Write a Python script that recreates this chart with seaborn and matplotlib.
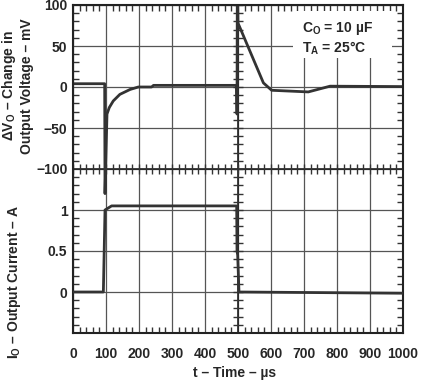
import numpy as np
import matplotlib
matplotlib.use("Agg")
import matplotlib.pyplot as plt
from matplotlib.patches import Rectangle
import seaborn as sns
import pandas as pd

# output voltage change (mV) vs time (us)
t_vout = [0, 96, 97, 103, 110, 122, 142, 173, 198, 238, 244, 496, 497, 498, 500, 577, 602, 713, 779, 1000]
dv_out = [4, 4, -130, -33, -25, -17, -9, -3, 0, 0, 2, 2, -33, 140, 78, 5, -4, -6, 1, 0.5]

# output current (A) vs time (us)
t_iout = [0, 92, 97, 117, 496, 497, 499, 503, 1000]
i_out = [0, 0, 1.0, 1.05, 1.05, 0.5, 0.45, 0, -0.015]

v_ticks = [100, 50, 0, -50, -100]
i_ticks = [1, 0.5, 0]
x_ticks = list(range(0, 1001, 100))

sns.set_style("white")
plt.rcParams["font.family"] = ["Liberation Sans", "DejaVu Sans"]
plt.rcParams["font.weight"] = "bold"
plt.rcParams["mathtext.fontset"] = "custom"
plt.rcParams["mathtext.rm"] = "Liberation Sans:bold"
plt.rcParams["mathtext.it"] = "Liberation Sans:bold"
plt.rcParams["mathtext.default"] = "rm"

fig = plt.figure(figsize=(4.22, 3.8), dpi=100)
ax = fig.add_axes([73 / 422, 47 / 380, 330 / 422, 328 / 380])
ax2 = ax.twinx()

line_col = "#333333"
grid_col = "#555555"
fs = 10

df_v = pd.DataFrame({"t": t_vout, "v": dv_out})
df_i = pd.DataFrame({"t": t_iout, "i": i_out})
sns.lineplot(data=df_v, x="t", y="v", ax=ax, color=line_col, lw=2, sort=False, estimator=None)
sns.lineplot(data=df_i, x="t", y="i", ax=ax2, color=line_col, lw=2, sort=False, estimator=None)

ax.set_xlim(0, 1000)
ax.set_ylim(-300, 100)
ax2.set_ylim(-0.5, 3.5)

# grid on divisions
all_v = np.arange(-300, 101, 50)
ax.set_xticks(x_ticks)
ax.set_xticklabels([str(v) for v in x_ticks])
ax.set_yticks(all_v)
ax.set_yticklabels([str(v).replace("-", "\u2212") if v in v_ticks else "" for v in all_v])
ax.set_xticks(np.arange(0, 1001, 20), minor=True)
ax.set_yticks(np.arange(-300, 101, 10), minor=True)
ax.grid(True, which="major", color=grid_col, lw=0.9)
ax.tick_params(which="major", length=0, labelsize=fs, pad=4)
ax.tick_params(axis="x", which="major", pad=10)
ax.tick_params(which="minor", direction="in", length=4, width=1, color="#333333",
               top=True, bottom=True, left=True, right=True)

ax2.set_yticks(i_ticks)
ax2.set_yticklabels(["1", "0.5", "0"])
ax2.yaxis.tick_left()
ax2.tick_params(length=0, labelsize=fs, pad=4)
ax2.grid(False)
ax2.set_xlabel("")
ax2.set_ylabel("")
ax.set_xlabel("")
ax.set_ylabel("")

# centre cross with ticks
ax.axhline(-100, color="#222222", lw=1.2, zorder=1)
ax.axvline(500, color="#222222", lw=1.2, zorder=1)
ax.plot(np.arange(0, 1001, 20), np.full(51, -100), ls="none", marker="|", ms=7, mew=1, color="#333333")
ax.plot(np.full(41, 500), np.arange(-300, 101, 10), ls="none", marker="_", ms=7, mew=1, color="#333333")

for s in ax.spines.values():
    s.set_color("#222222")
    s.set_linewidth(1.5)
for s in ax2.spines.values():
    s.set_visible(False)

# white box behind the conditions note
ax2.add_patch(Rectangle((0.667, 0.838), 0.3, 0.145, transform=ax2.transAxes,
                        facecolor="white", edgecolor="none", zorder=3))
ax2.text(0.694, 0.955, "C$_O$ = 10 µF\nT$_A$ = 25°C", transform=ax2.transAxes,
         ha="left", va="top", fontsize=fs, fontweight="bold", linespacing=1.2, zorder=4)

fig.text(17 / 422, 1 - 86 / 380, "ΔV$_O$ – Change in\nOutput Voltage – mV", rotation=90,
         ha="center", va="center", fontsize=fs, fontweight="bold", linespacing=1.15)
fig.text(15 / 422, 1 - 282 / 380, "I$_O$ – Output Current – A", rotation=90,
         ha="center", va="center", fontsize=fs, fontweight="bold")
fig.text(235 / 422, 1 - 373 / 380, "t – Time – µs", ha="center", va="center",
         fontsize=fs, fontweight="bold")

fig.savefig("out.png", dpi=100)
